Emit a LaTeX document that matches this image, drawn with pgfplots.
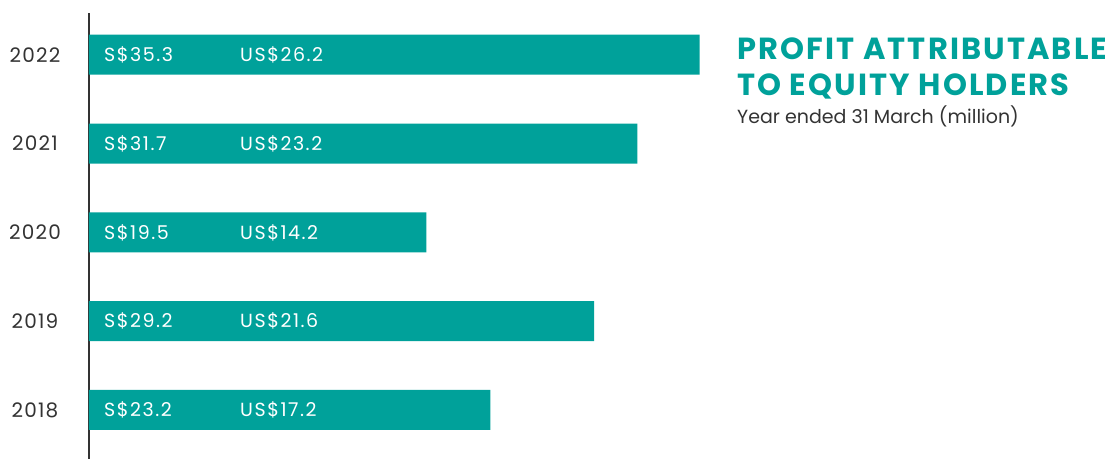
\documentclass[border=0pt]{standalone}
\usepackage{pgfplots}
\usepackage{pgfplotstable}
\pgfplotsset{compat=1.18}
\usepackage{fontspec}
\setmainfont{Poppins}
\definecolor{barteal}{RGB}{0,161,154}
\definecolor{txtgray}{RGB}{51,51,51}

\pgfplotstableread{
idx sgd usd
0 23.2 17.2
1 29.2 21.6
2 19.5 14.2
3 31.7 23.2
4 35.3 26.2
}\profit

\begin{document}
\begin{tikzpicture}[x=1pt,y=1pt]
\path (0,0) rectangle (1111,459);
\begin{axis}[
  at={(89pt,0pt)}, anchor=south west,
  scale only axis, width=615.9pt, height=446pt,
  xmin=0, xmax=35.6, ymin=-0.552, ymax=4.47,
  axis x line=none, axis y line*=left,
  y axis line style={draw=txtgray, line width=1.3pt},
  ytick={0,1,2,3,4}, yticklabels={2018,2019,2020,2021,2022},
  major tick length=0pt,
  yticklabel style={anchor=center, xshift=-54pt, font=\fontsize{20}{20}\selectfont\addfontfeature{LetterSpace=6}, text=txtgray},
  /pgf/number format/assume math mode=true,
  clip=false,
]
\addplot[xbar, bar width=40pt, fill=barteal, draw=none] table[x=sgd,y=idx]{\profit};
\addplot[draw=none, mark=none, point meta=\thisrow{sgd},
  nodes near coords={S\$\pgfmathprintnumber[fixed,fixed zerofill,precision=1]{\pgfplotspointmeta}},
  every node near coord/.append style={anchor=west, inner sep=0pt, text=white, font=\fontsize{19}{19}\selectfont\addfontfeature{LetterSpace=8}}]
  table[x expr=0.867, y=idx]{\profit};
\addplot[draw=none, mark=none, point meta=\thisrow{usd},
  nodes near coords={US\$\pgfmathprintnumber[fixed,fixed zerofill,precision=1]{\pgfplotspointmeta}},
  every node near coord/.append style={anchor=west, inner sep=0pt, text=white, font=\fontsize{19}{19}\selectfont\addfontfeature{LetterSpace=8}}]
  table[x expr=8.73, y=idx]{\profit};
\end{axis}
\node[anchor=base west, inner sep=0pt, text=barteal, font=\bfseries\fontsize{30.5}{30.5}\selectfont\addfontfeature{LetterSpace=7}] at (737,399) {PROFIT ATTRIBUTABLE};
\node[anchor=base west, inner sep=0pt, text=barteal, font=\bfseries\fontsize{30.5}{30.5}\selectfont\addfontfeature{LetterSpace=7}] at (737,363) {TO EQUITY HOLDERS};
\node[anchor=base west, inner sep=0pt, text=txtgray, font=\fontsize{19}{19}\selectfont] at (737,335) {Year ended 31 March (million)};
\end{tikzpicture}
\end{document}
